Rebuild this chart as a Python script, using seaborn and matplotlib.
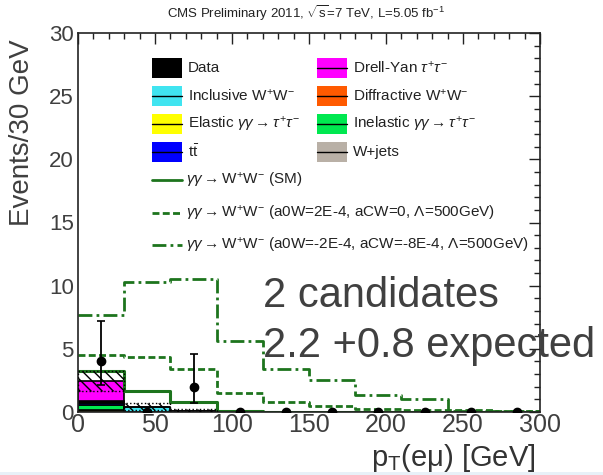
import matplotlib
matplotlib.use('Agg')
import numpy as np
import pandas as pd
import matplotlib.pyplot as plt
import seaborn as sns
from matplotlib.patches import Rectangle
from matplotlib.lines import Line2D
from matplotlib.ticker import MultipleLocator

# pT(e mu) binning, 30 GeV bins
bin_edges = [0, 30, 60, 90, 120, 150, 180, 210, 240, 270, 300]
bin_centers = [15, 45, 75, 105, 135, 165, 195, 225, 255, 285]

# stacked backgrounds (events / 30 GeV)
elastic_tautau = [0.15, 0.03, 0, 0, 0, 0, 0, 0, 0, 0]
inelastic_tautau = [0.40, 0, 0, 0, 0, 0, 0, 0, 0, 0]
ttbar = [0.15, 0, 0, 0, 0, 0, 0, 0, 0, 0]
diffractive_ww = [0.10, 0, 0, 0, 0, 0, 0, 0, 0, 0]
wjets = [0.10, 0, 0, 0, 0, 0, 0, 0, 0, 0]
inclusive_ww = [0, 0.40, 0.10, 0, 0, 0, 0, 0, 0, 0]
drell_yan = [1.55, 0, 0, 0, 0, 0, 0, 0, 0, 0]
bkg_unc = [0.80, 0.30, 0.10, 0, 0, 0, 0, 0, 0, 0]

# gamma gamma -> WW expectations (on top of background)
sm_ww = [3.25, 1.65, 0.80, 0.05, 0.03, 0.02, 0.02, 0.02, 0.02, 0.02]
aqgc_a0w = [4.5, 4.35, 3.4, 1.5, 0.8, 0.5, 0.25, 0.15, 0.12, 0.1]
aqgc_acw = [7.7, 10.3, 10.5, 5.6, 3.4, 2.5, 1.35, 1.0, 0.05, 0.05]

# data
data_counts = [4, 0, 2, 0, 0, 0, 0, 0, 0, 0]
data_err_lo = [1.9, 0, 1.3, 0, 0, 0, 0, 0, 0, 0]
data_err_hi = [3.2, 0, 2.6, 0, 0, 0, 0, 0, 0, 0]

bkg_names = ['Drell-Yan', 'Inclusive WW', 'W+jets', 'Diffractive WW', 'ttbar',
             'Inelastic tautau', 'Elastic tautau']
bkg_values = [drell_yan, inclusive_ww, wjets, diffractive_ww, ttbar,
              inelastic_tautau, elastic_tautau]
bkg_colors = {'Drell-Yan': '#ff00ff', 'Inclusive WW': '#40e4f0', 'W+jets': '#b9b0a6',
              'Diffractive WW': '#ff5a00', 'ttbar': '#0000ff',
              'Inelastic tautau': '#00e850', 'Elastic tautau': '#ffff00'}

sns.set_style('white')
plt.rcParams['font.family'] = ['Liberation Sans', 'DejaVu Sans']
plt.rcParams['mathtext.fontset'] = 'custom'
plt.rcParams['mathtext.rm'] = 'Liberation Sans'
plt.rcParams['mathtext.it'] = 'Liberation Sans:italic'
plt.rcParams['mathtext.bf'] = 'Liberation Sans:bold'
plt.rcParams['hatch.linewidth'] = 1.0

W, H = 603, 475
fig = plt.figure(figsize=(W / 100, H / 100), dpi=100)
ax = fig.add_axes([78 / W, 1 - 412 / H, 462 / W, 379 / H])

rows = []
for name, vals in zip(bkg_names, bkg_values):
    for c, v in zip(bin_centers, vals):
        rows.append({'pt': c, 'events': v, 'process': name})
bkg_df = pd.DataFrame(rows)

sns.histplot(data=bkg_df, x='pt', weights='events', hue='process', hue_order=bkg_names,
             bins=bin_edges, multiple='stack', palette=bkg_colors, alpha=1,
             edgecolor='black', linewidth=1.2, legend=False, ax=ax)

# uncertainty band on total background
bkg_total = np.sum(bkg_values, axis=0)
unc = np.array(bkg_unc)
mask = unc > 0
ax.bar(np.array(bin_centers)[mask], 2 * unc[mask], width=30, bottom=(bkg_total - unc)[mask],
       fill=False, hatch='\\\\\\', edgecolor='black', linewidth=1.0, linestyle=':', zorder=3)

sig_green = '#1d741d'
sns.histplot(x=bin_centers, weights=sm_ww, bins=bin_edges, element='step', fill=False,
             color=sig_green, linewidth=2.2, ax=ax)
sns.histplot(x=bin_centers, weights=aqgc_a0w, bins=bin_edges, element='step', fill=False,
             color=sig_green, linewidth=2.0, linestyle=(0, (2.5, 1.2)), ax=ax)
sns.histplot(x=bin_centers, weights=aqgc_acw, bins=bin_edges, element='step', fill=False,
             color=sig_green, linewidth=2.0, linestyle=(0, (5, 1.5, 1, 1.5)), ax=ax)

ax.errorbar(bin_centers, data_counts, yerr=[data_err_lo, data_err_hi], fmt='o',
            color='black', ms=6, capsize=3, elinewidth=1.3, capthick=1.2, zorder=5)

ax.set_xlim(0, 300)
ax.set_ylim(0, 30)
ax.xaxis.set_major_locator(MultipleLocator(50))
ax.xaxis.set_minor_locator(MultipleLocator(10))
ax.yaxis.set_major_locator(MultipleLocator(5))
ax.yaxis.set_minor_locator(MultipleLocator(1))
ax.tick_params(which='both', direction='in', top=True, right=True, colors='#222222',
               width=1.0)
ax.tick_params(which='major', length=8)
ax.tick_params(which='minor', length=4)
ax.tick_params(axis='x', which='major', labelsize=18, pad=1, labelcolor='#3f3f3f')
ax.tick_params(axis='y', which='major', labelsize=16, pad=3, labelcolor='#3f3f3f')
for sp in ax.spines.values():
    sp.set_linewidth(1.2)
    sp.set_color('#222222')

ax.set_ylabel('Events/30 GeV', fontsize=20, color='#3f3f3f')
ax.yaxis.set_label_coords(-0.094, 0.737)
ax.set_xlabel(r'p$_\mathrm{T}$(eμ) [GeV]', fontsize=21, color='#333333')
ax.xaxis.set_label_coords(0.991, -0.078)
ax.xaxis.label.set_horizontalalignment('right')

fig.text(306 / W, 1 - 13 / H, r'CMS Preliminary 2011, $\sqrt{\mathrm{s}}$=7 TeV, L=5.05 fb$^{-1}$',
         ha='center', va='center', fontsize=9.5, color='#222222')

ax.text(120, 8.3, '2 candidates', fontsize=30, color='#404040', va='baseline', zorder=6)
ax.text(120, 4.35, '2.2 +0.8 expected', fontsize=30, color='#404040', va='baseline', zorder=6)


# legend drawn in figure pixel space
def fx(x):
    return x / W


def fy(y):
    return 1 - y / H


leg_fs = 11
box_entries = [
    (152, 68, 'black', 'Data', False),
    (317, 68, '#ff00ff', r'Drell-Yan $\tau^{+}\tau^{-}$', True),
    (152, 96, '#40e4f0', r'Inclusive W$^{+}$W$^{-}$', True),
    (317, 96, '#ff5a00', r'Diffractive W$^{+}$W$^{-}$', True),
    (152, 124, '#ffff00', r'Elastic $\gamma\gamma\rightarrow\tau^{+}\tau^{-}$', True),
    (317, 124, '#00e850', r'Inelastic $\gamma\gamma\rightarrow\tau^{+}\tau^{-}$', True),
    (152, 152, '#0000ff', r't$\bar{\mathrm{t}}$', True),
    (317, 152, '#b9b0a6', 'W+jets', True),
]
for x, y, col, label, midline in box_entries:
    fig.add_artist(Rectangle((fx(x), fy(y + 10)), 30 / W, 20 / H, facecolor=col,
                             edgecolor='none', transform=fig.transFigure))
    if midline:
        fig.add_artist(Line2D([fx(x), fx(x + 30)], [fy(y), fy(y)], color='black', lw=1.0,
                              transform=fig.transFigure))
    fig.text(fx(x + 36), fy(y), label, fontsize=leg_fs, color='#222222', va='center')

line_entries = [
    (180, '-', r'$\gamma\gamma\rightarrow$W$^{+}$W$^{-}$ (SM)'),
    (213, (0, (2.5, 1.2)), r'$\gamma\gamma\rightarrow$W$^{+}$W$^{-}$ (a0W=2E-4, aCW=0, $\Lambda$=500GeV)'),
    (245, (0, (5, 1.5, 1, 1.5)), r'$\gamma\gamma\rightarrow$W$^{+}$W$^{-}$ (a0W=-2E-4, aCW=-8E-4, $\Lambda$=500GeV)'),
]
for y, ls, label in line_entries:
    fig.add_artist(Line2D([fx(152), fx(182)], [fy(y), fy(y)], color=sig_green, lw=2.0,
                          linestyle=ls, transform=fig.transFigure))
    fig.text(fx(186), fy(y), label, fontsize=leg_fs, color='#222222', va='center')

fig.add_artist(Rectangle((0, 0), 1, 3 / H, facecolor='#e8f1f8', edgecolor='none',
                         transform=fig.transFigure))

fig.savefig('out.png', dpi=100, facecolor='white')
